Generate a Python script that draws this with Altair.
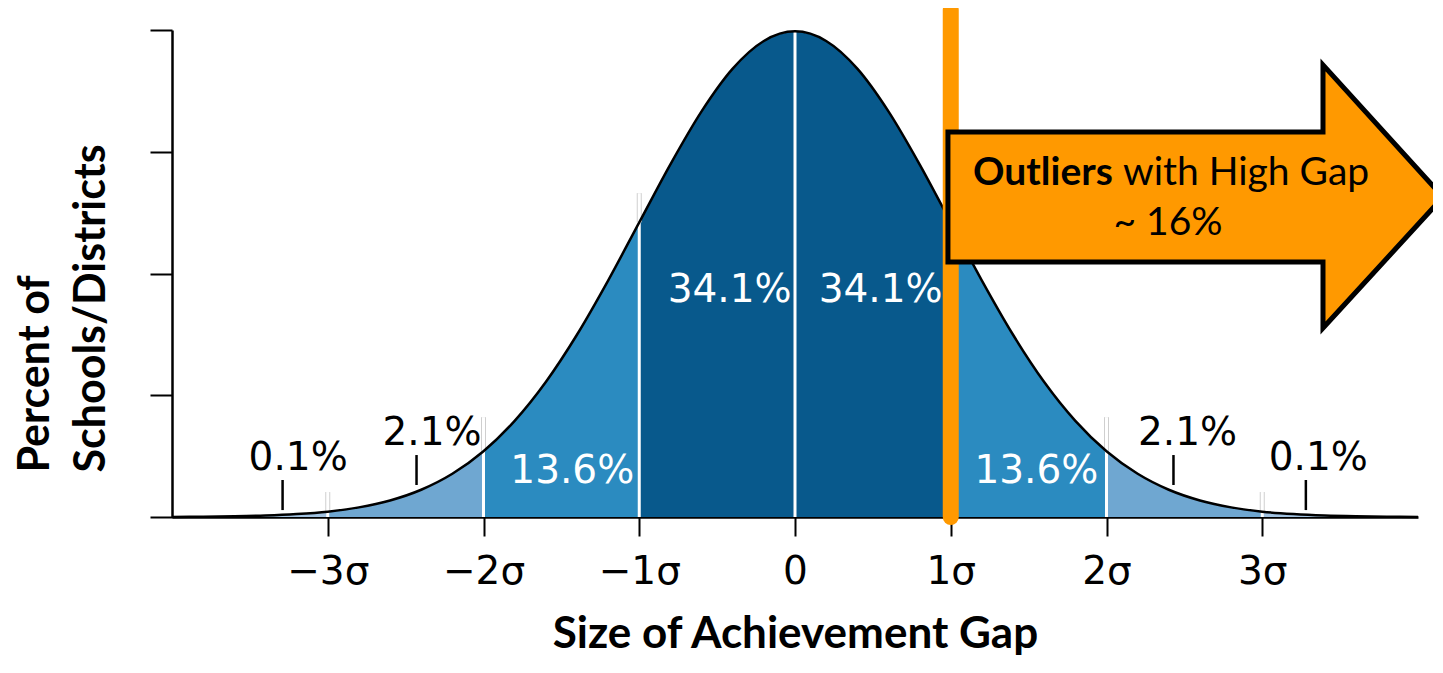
import altair as alt
import pandas as pd

# ---- data ----
xs = [-4.0, -3.8, -3.6, -3.4, -3.2, -3.0, -2.8, -2.6, -2.4, -2.2, -2.0,
      -1.8, -1.6, -1.4, -1.2, -1.0, -0.8, -0.6, -0.4, -0.2, 0.0,
      0.2, 0.4, 0.6, 0.8, 1.0, 1.2, 1.4, 1.6, 1.8, 2.0,
      2.2, 2.4, 2.6, 2.8, 3.0, 3.2, 3.4, 3.6, 3.8, 4.0]
dens = [0.0001, 0.0003, 0.0006, 0.0012, 0.0024, 0.0044, 0.0079, 0.0136, 0.0224, 0.0355, 0.0540,
        0.0790, 0.1109, 0.1497, 0.1942, 0.2420, 0.2897, 0.3332, 0.3683, 0.3910, 0.3989,
        0.3910, 0.3683, 0.3332, 0.2897, 0.2420, 0.1942, 0.1497, 0.1109, 0.0790, 0.0540,
        0.0355, 0.0224, 0.0136, 0.0079, 0.0044, 0.0024, 0.0012, 0.0006, 0.0003, 0.0001]

band_edges = [-4, -3, -2, -1, 0, 1, 2, 3, 4]
band_tiers = ["outer", "tail", "mid", "core", "core", "mid", "tail", "outer"]

sep_x = [-3, -2, -1, 0, 1, 2, 3]
sep_top = [0.0205, 0.082, 0.266, 0.3989, 0.266, 0.082, 0.0205]

pct_labels = ["0.1%", "2.1%", "13.6%", "34.1%", "34.1%", "13.6%", "2.1%", "0.1%"]
pct_x = [-3.19, -2.33, -1.43, -0.42, 0.55, 1.55, 2.52, 3.36]
pct_y = [0.0386, 0.0591, 0.0279, 0.1766, 0.1766, 0.0279, 0.0591, 0.0386]
pct_on_dark = [False, False, True, True, True, True, False, False]

lead_x = [-3.29, -2.43, 2.43, 3.28]
lead_lo = [0.0057, 0.0263, 0.0263, 0.0057]
lead_hi = [0.0304, 0.0509, 0.0509, 0.0304]

tick_vals = [-3, -2, -1, 0, 1, 2, 3]
tick_labels = ["\u22123\u03c3", "\u22122\u03c3", "\u22121\u03c3", "0", "1\u03c3", "2\u03c3", "3\u03c3"]
y_ticks = [0, 0.1, 0.2, 0.3, 0.4]

cut_x = [1.0]
cut_top = [0.4164]

arrow_x = [0.982, 3.39, 3.39, 4.161]
arrow_lo = [0.2094, 0.2094, 0.1552, 0.2628]
arrow_hi = [0.3162, 0.3162, 0.3713, 0.2628]

arrow_bold = ["Outliers"]
arrow_bold_x = [1.143]
arrow_rest = ["with High Gap"]
arrow_rest_x = [2.106]
arrow_line_y = [0.2727]
arrow_sub = ["~ 16%"]
arrow_sub_x = [2.395]
arrow_sub_y = [0.2316]

x_title = "Size of Achievement Gap"
y_title = ["Percent of", "Schools/Districts"]

# ---- tables ----
rows = []
for i in range(len(band_edges) - 1):
    a, b = band_edges[i], band_edges[i + 1]
    for x, y in zip(xs, dens):
        if a - 1e-9 <= x <= b + 1e-9:
            rows.append({"x": x, "y": y, "seg": i, "tier": band_tiers[i]})
bands = pd.DataFrame(rows)
curve = pd.DataFrame({"x": xs, "y": dens})
dens_at = {round(x, 1): y for x, y in zip(xs, dens)}
seps = pd.DataFrame({"x": sep_x, "y": [0] * len(sep_x), "top": sep_top,
                     "cv": [dens_at[round(float(v), 1)] for v in sep_x]})
pcts = pd.DataFrame({"x": pct_x, "y": pct_y, "t": pct_labels,
                     "c": ["white" if d else "black" for d in pct_on_dark]})
leads = pd.DataFrame({"x": lead_x, "y": lead_lo, "y2": lead_hi})
cut = pd.DataFrame({"x": cut_x, "y": [0], "y2": cut_top})
arrow = pd.DataFrame({"x": arrow_x, "y": arrow_lo, "y2": arrow_hi})
t1 = pd.DataFrame({"x": arrow_bold_x, "y": arrow_line_y, "t": arrow_bold})
t2 = pd.DataFrame({"x": arrow_rest_x, "y": arrow_line_y, "t": arrow_rest})
t3 = pd.DataFrame({"x": arrow_sub_x, "y": arrow_sub_y, "t": arrow_sub})

xscale = alt.Scale(domain=[-4, 4], nice=False, zero=False)
yscale = alt.Scale(domain=[0, 0.4], nice=False, zero=False)

label_expr = " : ".join(
    f"datum.value == {v} ? '{l}'" for v, l in zip(tick_vals, tick_labels)
) + " : ''"

x_axis = alt.Axis(values=tick_vals, labelExpr=label_expr, grid=False,
                  labelFont="DejaVu Sans", labelFontSize=39, labelColor="black",
                  labelPadding=16, tickSize=19, tickWidth=2, tickColor="black",
                  domainColor="black", domainWidth=2.5,
                  title=x_title, titleFont="Lato", titleFontSize=44,
                  titleFontWeight="bold", titleColor="black",
                  titleY=130, titleBaseline="alphabetic")
y_axis = alt.Axis(values=y_ticks, labels=False, grid=False,
                  tickSize=22, tickWidth=2, tickColor="black",
                  domainColor="black", domainWidth=2.5,
                  title=y_title, titleFont="Lato", titleFontSize=43,
                  titleFontWeight="bold", titleColor="black",
                  titleAngle=270, titleAlign="left", titleBaseline="top",
                  titleX=-158, titleY=442, titleLineHeight=56)


def X(field="x"):
    return alt.X(f"{field}:Q", scale=xscale, axis=x_axis)


def Y(field="y"):
    return alt.Y(f"{field}:Q", scale=yscale, axis=y_axis, stack=None)


area = alt.Chart(bands).mark_area(interpolate="monotone").encode(
    x=X(), y=Y(),
    color=alt.Color("tier:N", legend=None,
                    scale=alt.Scale(domain=["core", "mid", "tail", "outer"],
                                    range=["#08598c", "#2b8bc0", "#6fa7d1", "#a2c3e2"])),
    detail="seg:N")

grey = alt.Chart(seps).mark_rule(color="#cfcfcf", strokeWidth=5).encode(
    x=X(), y=Y("cv"), y2="top:Q")
white = alt.Chart(seps).mark_rule(color="white", strokeWidth=3).encode(
    x=X(), y=Y(), y2="top:Q")

line = alt.Chart(curve).mark_line(color="black", strokeWidth=2.5, interpolate="monotone").encode(
    x=X(), y=Y())

lead = alt.Chart(leads).mark_rule(color="black", strokeWidth=2.5).encode(
    x=X(), y=Y(), y2="y2:Q")

pct = alt.Chart(pcts).mark_text(font="DejaVu Sans", fontSize=39, align="center",
                                baseline="alphabetic").encode(
    x=X(), y=Y(), text="t:N", color=alt.Color("c:N", scale=None))

cutline = alt.Chart(cut).mark_rule(color="#ff9900", strokeWidth=16, strokeCap="round").encode(
    x=X(), y=Y(), y2="y2:Q")

arrow_shape = alt.Chart(arrow).mark_area(color="#ff9900", stroke="black", strokeWidth=5,
                                         strokeJoin="miter", opacity=1).encode(
    x=X(), y=Y(), y2="y2:Q")

txt1 = alt.Chart(t1).mark_text(font="Lato", fontSize=39, fontWeight="bold", align="left",
                               baseline="alphabetic", color="black").encode(
    x=X(), y=Y(), text="t:N")
txt2 = alt.Chart(t2).mark_text(font="Lato", fontSize=39, align="left",
                               baseline="alphabetic", color="black").encode(
    x=X(), y=Y(), text="t:N")
txt3 = alt.Chart(t3).mark_text(font="Lato", fontSize=39, align="center",
                               baseline="alphabetic", color="black").encode(
    x=X(), y=Y(), text="t:N")

chart = alt.layer(area, grey, white, line, lead, pct, cutline, arrow_shape,
                  txt1, txt2, txt3).properties(
    width=1246, height=487,
    autosize=alt.AutoSizeParams(type="none"),
    padding={"left": 164, "top": 22, "right": 15, "bottom": 144},
    background="white",
).configure_view(stroke=None)

chart.save("out.html", embed_options={"renderer": "svg", "actions": False})
